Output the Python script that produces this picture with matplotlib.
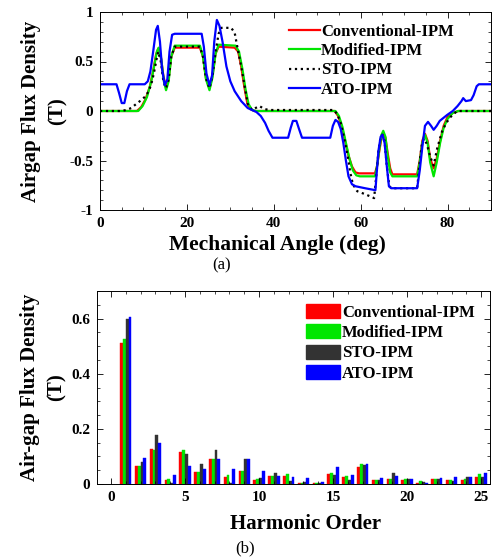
import matplotlib
matplotlib.use("Agg")
import matplotlib.pyplot as plt
from matplotlib.ticker import MultipleLocator
from matplotlib.patches import Patch
import numpy as np

plt.rcParams["font.family"] = ["Liberation Serif", "DejaVu Serif"]
plt.rcParams["font.weight"] = "bold"

# airgap flux density vs mechanical angle, (deg, T)
conventional = [
    (0, 0.0), (8.5, 0.0), (9.5, 0.04), (10.5, 0.12), (11.5, 0.25), (12.3, 0.42),
    (12.9, 0.57), (13.4, 0.63), (14.0, 0.55), (14.6, 0.35), (15.2, 0.24), (15.8, 0.33),
    (16.4, 0.55), (17.2, 0.64), (23.0, 0.64), (23.7, 0.55), (24.4, 0.33), (25.2, 0.23),
    (25.9, 0.36), (26.6, 0.58), (27.3, 0.65), (31.0, 0.64), (31.8, 0.60), (32.5, 0.45),
    (33.2, 0.25), (33.9, 0.08), (34.6, 0.02), (35.5, 0.0), (54.0, 0.0), (54.8, -0.05),
    (55.6, -0.15), (56.4, -0.30), (57.2, -0.45), (58.0, -0.56), (58.8, -0.62), (59.6, -0.63),
    (63.3, -0.63), (63.8, -0.55), (64.3, -0.40), (64.8, -0.27), (65.2, -0.23), (65.7, -0.27),
    (66.2, -0.42), (66.8, -0.58), (67.3, -0.64), (73.0, -0.64), (73.6, -0.50), (74.2, -0.30),
    (74.8, -0.23), (75.4, -0.30), (76.0, -0.48), (76.8, -0.58), (77.5, -0.48), (78.3, -0.30),
    (79.1, -0.15), (80.0, -0.06), (81.2, -0.02), (82.5, 0.0), (90, 0.0),
]
modified = [
    (0, 0.0), (8.8, 0.0), (9.8, 0.05), (10.8, 0.14), (11.8, 0.30), (12.5, 0.46),
    (13.1, 0.60), (13.5, 0.64), (14.1, 0.52), (14.7, 0.30), (15.2, 0.21), (15.8, 0.30),
    (16.4, 0.55), (17.2, 0.66), (23.0, 0.66), (23.7, 0.55), (24.4, 0.32), (25.2, 0.21),
    (25.9, 0.34), (26.6, 0.58), (27.3, 0.67), (31.2, 0.66), (32.0, 0.60), (32.8, 0.42),
    (33.5, 0.22), (34.2, 0.07), (35.0, 0.01), (36.0, 0.0), (54.2, 0.0), (55.0, -0.05),
    (55.8, -0.16), (56.6, -0.32), (57.4, -0.48), (58.2, -0.60), (59.0, -0.65), (59.8, -0.66),
    (63.3, -0.66), (63.8, -0.55), (64.3, -0.38), (64.8, -0.24), (65.2, -0.20), (65.7, -0.26),
    (66.2, -0.45), (66.8, -0.62), (67.3, -0.66), (73.0, -0.66), (73.6, -0.52), (74.2, -0.32),
    (74.8, -0.24), (75.4, -0.32), (76.0, -0.52), (76.8, -0.66), (77.5, -0.52), (78.3, -0.32),
    (79.1, -0.17), (80.0, -0.08), (81.2, -0.02), (82.5, 0.0), (90, 0.0),
]
sto = [
    (0, 0.0), (5.0, 0.0), (6.0, 0.01), (7.2, 0.03), (8.3, 0.07), (9.5, 0.11),
    (10.5, 0.15), (11.2, 0.20), (11.8, 0.27), (12.4, 0.38), (13.0, 0.52), (13.4, 0.60),
    (14.0, 0.50), (14.6, 0.30), (15.2, 0.23), (15.8, 0.32), (16.4, 0.55), (17.2, 0.65),
    (23.0, 0.65), (23.7, 0.55), (24.4, 0.33), (25.2, 0.23), (25.9, 0.36), (26.6, 0.60),
    (27.3, 0.78), (27.9, 0.84), (30.2, 0.84), (31.0, 0.79), (31.6, 0.65), (32.5, 0.45),
    (33.3, 0.25), (34.0, 0.07), (35.0, 0.01), (35.8, 0.03), (36.7, 0.05), (37.8, 0.02),
    (39.0, 0.01), (53.8, 0.01), (54.6, -0.03), (55.4, -0.12), (56.2, -0.27), (57.0, -0.45),
    (57.6, -0.62), (58.2, -0.74), (59.2, -0.81), (61.0, -0.84), (63.1, -0.88), (63.6, -0.65),
    (64.1, -0.40), (64.6, -0.26), (65.0, -0.24), (65.5, -0.30), (66.0, -0.55), (66.6, -0.76),
    (67.2, -0.78), (73.0, -0.78), (73.6, -0.52), (74.0, -0.36), (74.5, -0.28), (75.2, -0.33),
    (76.0, -0.46), (76.8, -0.55), (77.6, -0.38), (78.7, -0.21), (79.7, -0.12), (80.7, -0.06),
    (82.2, 0.0), (90, 0.0),
]
ato = [
    (0, 0.27), (3.8, 0.27), (4.4, 0.18), (5.0, 0.08), (5.6, 0.08), (6.2, 0.20),
    (6.8, 0.27), (10.3, 0.27), (11.0, 0.30), (11.6, 0.40), (12.3, 0.62), (12.9, 0.82),
    (13.3, 0.86), (13.8, 0.70), (14.3, 0.42), (14.9, 0.26), (15.5, 0.32), (16.0, 0.60),
    (16.6, 0.77), (17.2, 0.78), (23.4, 0.78), (23.9, 0.65), (24.5, 0.38), (25.2, 0.26),
    (25.8, 0.36), (26.3, 0.70), (26.9, 0.92), (27.5, 0.86), (28.2, 0.70), (29.1, 0.45),
    (30.0, 0.30), (31.0, 0.20), (32.5, 0.10), (34.0, 0.03), (36.0, -0.01), (37.0, -0.05),
    (38.0, -0.12), (38.8, -0.20), (39.7, -0.27), (43.3, -0.27), (43.9, -0.17), (44.4, -0.10),
    (45.2, -0.10), (45.8, -0.18), (46.5, -0.27), (53.0, -0.27), (53.6, -0.15), (54.2, -0.09),
    (54.8, -0.11), (55.4, -0.18), (56.0, -0.32), (56.6, -0.50), (57.2, -0.66), (58.0, -0.74),
    (58.8, -0.76), (61.0, -0.78), (63.4, -0.80), (63.7, -0.62), (64.1, -0.40), (64.6, -0.26),
    (65.0, -0.24), (65.5, -0.32), (66.0, -0.55), (66.5, -0.76), (67.0, -0.78), (73.0, -0.78),
    (73.6, -0.60), (74.2, -0.36), (74.8, -0.15), (75.5, -0.11), (76.2, -0.15), (76.8, -0.19),
    (77.5, -0.15), (78.2, -0.10), (79.9, -0.04), (81.2, 0.0), (82.3, 0.05), (83.2, 0.10),
    (83.6, 0.13), (84.2, 0.10), (85.4, 0.11), (86.0, 0.16), (86.7, 0.25), (87.2, 0.27),
    (90, 0.27),
]

# harmonic spectrum amplitudes (T), orders 1..25
orders = list(range(1, 26))
conv_h = [0.51, 0.065, 0.126, 0.013, 0.117, 0.045, 0.091, 0.027, 0.048, 0.015, 0.030, 0.030, 0.003,
          0.005, 0.036, 0.027, 0.063, 0.015, 0.017, 0.015, 0.005, 0.017, 0.015, 0.015, 0.027]
mod_h = [0.525, 0.065, 0.124, 0.017, 0.124, 0.045, 0.091, 0.031, 0.048, 0.018, 0.030, 0.038, 0.005,
         0.003, 0.039, 0.030, 0.072, 0.015, 0.017, 0.019, 0.012, 0.019, 0.015, 0.017, 0.036]
sto_h = [0.600, 0.078, 0.176, 0.004, 0.109, 0.073, 0.124, 0.003, 0.090, 0.022, 0.039, 0.012, 0.008,
         0.005, 0.033, 0.015, 0.070, 0.015, 0.041, 0.017, 0.007, 0.019, 0.011, 0.027, 0.027]
ato_h = [0.605, 0.096, 0.148, 0.032, 0.067, 0.053, 0.091, 0.055, 0.090, 0.048, 0.030, 0.027, 0.020,
         0.008, 0.063, 0.033, 0.072, 0.020, 0.030, 0.019, 0.005, 0.022, 0.024, 0.027, 0.039]

names = ["Conventional-IPM", "Modified-IPM", "STO-IPM", "ATO-IPM"]
RED, GREEN, BLUE = "#ff0000", "#00e600", "#0000ff"


def matlab_axes(ax):
    ax.tick_params(which="both", direction="in", top=True, right=True, labelsize=11, pad=5)
    ax.tick_params(which="major", length=4, width=0.6)
    ax.tick_params(which="minor", length=2, width=0.5)
    for s in ax.spines.values():
        s.set_linewidth(0.7)
    for lab in ax.get_xticklabels() + ax.get_yticklabels():
        lab.set_fontweight("bold")


fig = plt.figure(figsize=(4.93, 5.60), dpi=100)

# (a) waveform
ax1 = fig.add_axes([100 / 493, 1 - 210 / 560, 391 / 493, 198 / 560])
for pts, color, ls, lw in [(conventional, RED, "-", 1.6), (modified, GREEN, "-", 1.6),
                           (sto, "black", ":", 1.6), (ato, BLUE, "-", 1.6)]:
    xs, ys = zip(*pts)
    ax1.plot(xs, ys, color=color, linestyle=ls, linewidth=lw)
ax1.set_xlim(0, 90)
ax1.set_ylim(-1, 1)
ax1.set_xticks([0, 20, 40, 60, 80])
ax1.set_yticks([-1, -0.5, 0, 0.5, 1])
ax1.set_yticklabels(["-1", "-0.5", "0", "0.5", "1"])
ax1.xaxis.set_minor_locator(MultipleLocator(5))
ax1.yaxis.set_minor_locator(MultipleLocator(0.1))
matlab_axes(ax1)
ax1.set_xlabel("Mechanical Angle (deg)", fontsize=15.5, fontweight="bold")
ax1.xaxis.set_label_coords(0.455, -0.127)
ax1.set_ylabel("Airgap Flux Density\n(T)", fontsize=15, fontweight="bold",
               linespacing=1.45)
ax1.yaxis.set_label_coords(-0.083, 0.5)
ax1.legend(names, loc="upper right", bbox_to_anchor=(0.935, 1.0), frameon=False,
           handlelength=1.85, handletextpad=0.1, labelspacing=0.2,
           borderaxespad=0.3, prop={"weight": "bold", "size": 12})
fig.text(222 / 493, 1 - 265 / 560, "(a)", ha="center", va="center",
         fontsize=12, fontweight="normal")

# (b) harmonic spectrum
ax2 = fig.add_axes([97 / 493, 1 - 484 / 560, 393 / 493, 193 / 560])
width = 0.19
offsets = [-0.285, -0.095, 0.095, 0.285]
colors = [RED, GREEN, "#333333", BLUE]
for vals, off, color in zip([conv_h, mod_h, sto_h, ato_h], offsets, colors):
    ax2.bar(np.array(orders) + off, vals, width=width, color=color,
            edgecolor=color, linewidth=0.3)
ax2.set_xlim(-0.95, 25.6)
ax2.set_ylim(0, 0.7)
ax2.set_xticks([0, 5, 10, 15, 20, 25])
ax2.set_yticks([0, 0.2, 0.4, 0.6])
ax2.set_yticklabels(["0", "0.2", "0.4", "0.6"])
ax2.xaxis.set_minor_locator(MultipleLocator(1))
ax2.yaxis.set_minor_locator(MultipleLocator(0.05))
matlab_axes(ax2)
ax2.set_xlabel("Harmonic Order", fontsize=15, fontweight="bold")
ax2.xaxis.set_label_coords(0.53, -0.155)
ax2.set_ylabel("Air-gap Flux Density\n(T)", fontsize=15, fontweight="bold",
               linespacing=1.45)
ax2.yaxis.set_label_coords(-0.077, 0.5)
handles = [Patch(facecolor=c, edgecolor=c) for c in colors]
ax2.legend(handles, names, loc="upper right", bbox_to_anchor=(1.0, 1.01), frameon=False,
           handlelength=2.0, handleheight=0.9, handletextpad=0.15, labelspacing=0.22,
           borderaxespad=0.5, prop={"weight": "bold", "size": 12})
fig.text(245 / 493, 1 - 548 / 560, "(b)", ha="center", va="center",
         fontsize=12, fontweight="normal")

fig.savefig("out.png", dpi=100)
